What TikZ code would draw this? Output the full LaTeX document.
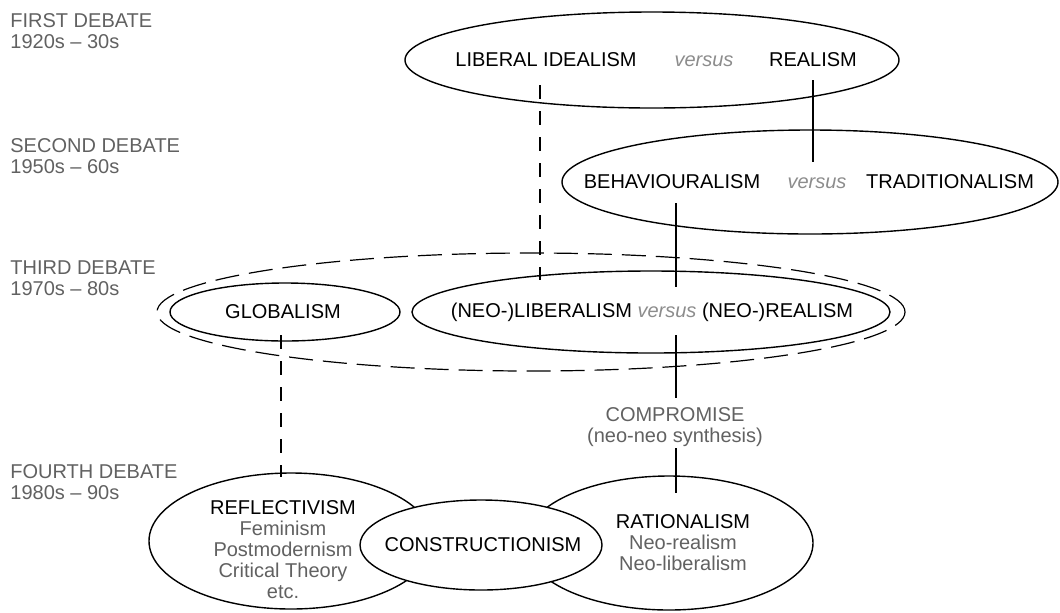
\documentclass[tikz,border=0pt]{standalone}
\usepackage{fontspec}
\setmainfont{Liberation Sans}
\usetikzlibrary{shapes.geometric}
\colorlet{debategray}{black!62}
\colorlet{versusgray}{black!45}
\begin{document}
\begin{tikzpicture}[x=0.5pt, y=-0.5pt, font=\fontsize{10}{10.5}\selectfont,
    debate/.style={anchor=west, align=left, inner sep=0pt, text=debategray},
    school/.style={draw, ellipse, line width=0.7pt, inner sep=0pt},
    word/.style={inner sep=0pt},
    vs/.style={inner sep=0pt, text=versusgray, font=\fontsize{10}{10.5}\selectfont\itshape},
    link/.style={line width=1.2pt},
    dashlink/.style={line width=1.2pt, dash pattern=on 7pt off 6pt}]
  \useasboundingbox (0,0) rectangle (1060,612);

  % debates on the left
  \node[debate] (first)  at (10,31)  {FIRST DEBATE\\1920s -- 30s};
  \node[debate] (second) at (10,156) {SECOND DEBATE\\1950s -- 60s};
  \node[debate] (third)  at (10,278) {THIRD DEBATE\\1970s -- 80s};
  \node[debate] (fourth) at (10,482) {FOURTH DEBATE\\1980s -- 90s};

  % first debate
  \node[school, minimum width=247pt, minimum height=48pt] (e1) at (652,60) {};
  \node[word] (li)  at (546,60) {LIBERAL IDEALISM};
  \node[vs]   (vs1) at (704,61) {versus};
  \node[word] (re)  at (813,60) {REALISM};

  % second debate
  \node[school, minimum width=248pt, minimum height=52pt] (e2) at (810,182) {};
  \node[word] (be)  at (672,182) {BEHAVIOURALISM};
  \node[vs]   (vs2) at (817,183) {versus};
  \node[word] (tr)  at (950,182) {TRADITIONALISM};

  % third debate
  \node[school, line width=0.6pt, dash pattern=on 12pt off 5pt,
        minimum width=374pt, minimum height=59pt] (e3) at (531,312) {};
  \node[school, minimum width=115pt, minimum height=29pt] (glob) at (285,312) {};
  \node[word] (globtext) at (283,312) {GLOBALISM};
  \node[school, minimum width=239pt, minimum height=41pt] (neo) at (651,312) {};
  \node[word] (neotext) at (652,312)
    {(NEO-)LIBERALISM \textcolor{versusgray}{\itshape versus} (NEO-)REALISM};

  \node[word, align=center, text=debategray] (comp) at (675,427)
    {COMPROMISE\\(neo-neo synthesis)};

  % fourth debate
  \node[school, minimum width=142pt, minimum height=68pt] (refl) at (291,541) {};
  \node[school, minimum width=144pt, minimum height=67pt] (rat) at (669,543) {};
  \node[school, fill=white, minimum width=121pt, minimum height=45pt] (cons) at (481,545) {};
  \node[word] (constext) at (483,545) {CONSTRUCTIONISM};
  \node[word, align=center, text=debategray] (refltext) at (283,550)
    {\textcolor{black}{REFLECTIVISM}\\Feminism\\Postmodernism\\Critical Theory\\etc.};
  \node[word, align=center, text=debategray] (rattext) at (683,543)
    {\textcolor{black}{RATIONALISM}\\Neo-realism\\Neo-liberalism};

  % connectors
  \coordinate (re-foot)   at (813,80);
  \coordinate (be-head)   at (813,162);
  \coordinate (li-foot)   at (540,85);
  \coordinate (neo-head)  at (540,280);
  \coordinate (be-foot)   at (676,203);
  \coordinate (neo-mid)   at (676,287);
  \coordinate (neo-foot)  at (676,335);
  \coordinate (comp-head) at (676,398);
  \coordinate (comp-foot) at (676,448);
  \coordinate (rat-head)  at (676,493);
  \coordinate (glob-foot) at (281,335);
  \coordinate (refl-head) at (281,477);

  \draw[link] (re-foot) -- (be-head);
  \draw[dashlink] (li-foot) -- (neo-head);
  \draw[link] (be-foot) -- (neo-mid);
  \draw[link] (neo-foot) -- (comp-head);
  \draw[link] (comp-foot) -- (rat-head);
  \draw[dashlink] (glob-foot) -- (refl-head);
\end{tikzpicture}
\end{document}
